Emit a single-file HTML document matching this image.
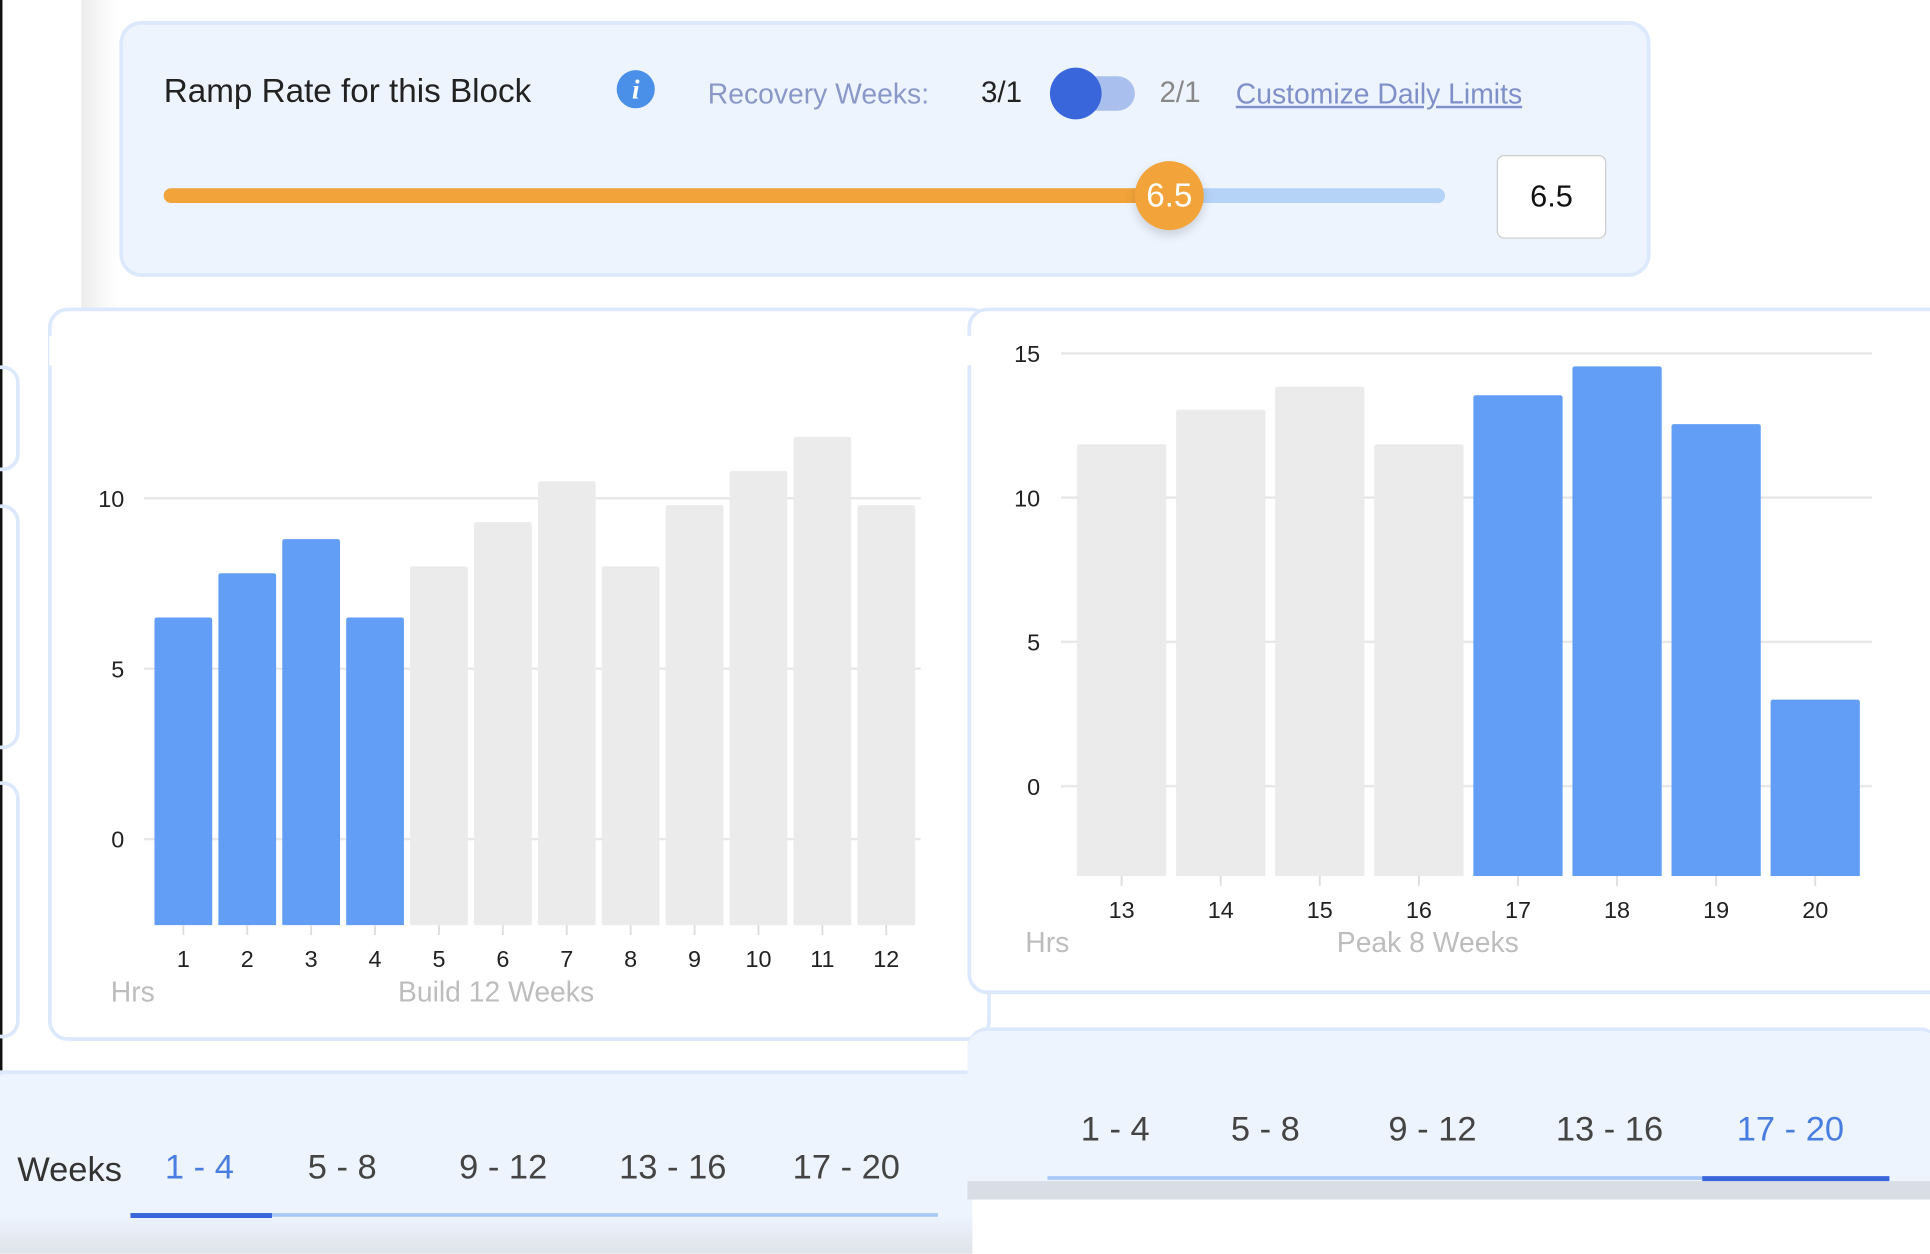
<!DOCTYPE html>
<html><head><meta charset="utf-8"><style>
html,body{margin:0;padding:0;background:#fff;overflow:hidden}
#root{position:absolute;left:0;top:0;width:1568px;height:1016px;transform:scale(1.23087,1.2303);transform-origin:0 0;font-family:"Liberation Sans",sans-serif;background:#fff}
.abs{position:absolute}
.t{position:absolute;white-space:nowrap}
</style></head><body>
<div id="root">
  <div class="abs" style="left:0;top:0;width:2px;height:1016px;background:#111"></div>
  <div class="abs" style="left:66px;top:0;width:1300px;height:273px;background:linear-gradient(90deg,#ececec,#fafafa 20px,#fff 30px)"></div>
  <div class="abs" style="left:97px;top:17px;width:1238px;height:202px;background:#edf4fe;border:3px solid #dce8fb;border-radius:18px"></div>
  <div class="abs" style="left:97px;top:253px;width:1238px;height:40px;background:#edf4fe;border:3px solid #dce8fb;border-radius:18px"></div>
  <div class="abs" style="left:66px;top:273px;width:1502px;height:30px;background:#fff"></div>

  <div class="t" style="left:133px;top:59px;font-size:27px;color:#222">Ramp Rate for this Block</div>
  <div class="t" style="left:501px;top:57px;width:31px;height:31px;border-radius:50%;background:#4a90e8;color:#fff;font:italic bold 22px 'Liberation Serif',serif;text-align:center;line-height:31px">i</div>
  <div class="t" style="left:575px;top:63px;font-size:23px;color:#8a98c8">Recovery Weeks:</div>
  <div class="t" style="left:797px;top:62px;font-size:24px;color:#222">3/1</div>
  <div class="abs" style="left:858px;top:62px;width:64px;height:28px;border-radius:14px;background:#a9c0ef"></div>
  <div class="abs" style="left:853px;top:55px;width:42px;height:42px;border-radius:50%;background:#3a66db"></div>
  <div class="t" style="left:942px;top:62px;font-size:24px;color:#888">2/1</div>
  <div class="t" style="left:1004px;top:63px;font-size:23px;color:#7f8fc8;text-decoration:underline">Customize Daily Limits</div>

  <div class="abs" style="left:133px;top:153px;width:1041px;height:12px;border-radius:6px;background:#b5d3f7"></div>
  <div class="abs" style="left:133px;top:153px;width:817px;height:12px;border-radius:6px;background:#f2a43a"></div>
  <div class="abs" style="left:922px;top:131px;width:56px;height:56px;border-radius:50%;background:#f2a43a;box-shadow:0 4px 8px rgba(0,0,0,.15);color:#fff;font-size:27px;text-align:center;line-height:56px">6.5</div>
  <div class="abs" style="left:1216px;top:126px;width:87px;height:66px;background:#fff;border:1px solid #ccc;border-radius:6px;font-size:25px;text-align:center;line-height:66px;color:#111">6.5</div>

  <!-- left side small cards -->
  <div class="abs" style="left:-20px;top:297px;width:30px;height:80px;border:3px solid #dce8fb;border-radius:14px"></div>
  <div class="abs" style="left:-20px;top:410px;width:30px;height:193px;border:3px solid #dce8fb;border-radius:14px"></div>
  <div class="abs" style="left:-20px;top:635px;width:30px;height:203px;border:3px solid #dce8fb;border-radius:14px"></div>

  <div class="abs" style="left:39px;top:250px;width:760px;height:590px;border:3px solid #dce8fb;border-radius:16px;background:#fff"></div>
  <div class="abs" style="left:786px;top:250px;width:800px;height:552px;border:3px solid #dce8fb;border-radius:16px;background:#fff"></div>
  <div class="abs" style="left:40px;top:273px;width:1528px;height:24px;background:#fff"></div>

  <svg class="abs" style="left:0;top:0" width="1568" height="1016" id="charts"></svg>

  <!-- bottom left tabs -->
  <div class="abs" style="left:0;top:870px;width:790px;height:146px;background:linear-gradient(#edf4fe 0,#edf4fe 115px,#dfe3ea 146px);border-top:3px solid #dce8fb"></div>
  <div class="t" style="left:14px;top:935px;font-size:28px;color:#333">Weeks</div>
  <div class="t" style="left:134px;top:933px;font-size:28px;color:#4a7de0">1 - 4</div>
  <div class="t" style="left:250px;top:933px;font-size:28px;color:#444">5 - 8</div>
  <div class="t" style="left:373px;top:933px;font-size:28px;color:#444">9 - 12</div>
  <div class="t" style="left:503px;top:933px;font-size:28px;color:#444">13 - 16</div>
  <div class="t" style="left:644px;top:933px;font-size:28px;color:#444">17 - 20</div>
  <div class="abs" style="left:106px;top:986px;width:656px;height:3px;background:#a8c8f5"></div>
  <div class="abs" style="left:106px;top:986px;width:115px;height:4px;background:#3a66db"></div>

  <!-- bottom right tabs -->
  <div class="abs" style="left:786px;top:835px;width:790px;height:125px;background:#edf4fe;border-top:3px solid #dce8fb;border-radius:16px 16px 0 0"></div>
  <div class="abs" style="left:786px;top:960px;width:782px;height:15px;background:#d8dde6"></div>
  <div class="t" style="left:878px;top:902px;font-size:28px;color:#444">1 - 4</div>
  <div class="t" style="left:1000px;top:902px;font-size:28px;color:#444">5 - 8</div>
  <div class="t" style="left:1128px;top:902px;font-size:28px;color:#444">9 - 12</div>
  <div class="t" style="left:1264px;top:902px;font-size:28px;color:#444">13 - 16</div>
  <div class="t" style="left:1411px;top:902px;font-size:28px;color:#4a7de0">17 - 20</div>
  <div class="abs" style="left:851px;top:956px;width:684px;height:3px;background:#a8c8f5"></div>
  <div class="abs" style="left:1383px;top:956px;width:152px;height:4px;background:#3a66db"></div>
</div>
<script>
const buildWeeks = ["1","2","3","4","5","6","7","8","9","10","11","12"];
const buildHours = [6.5,7.8,8.8,6.5,8.0,9.3,10.5,8.0,9.8,10.8,11.8,9.8];
const buildActive = [1,1,1,1,0,0,0,0,0,0,0,0];
const buildTicks = [0,5,10];
const peakWeeks = ["13","14","15","16","17","18","19","20"];
const peakHours = [11.85,13.05,13.85,11.85,13.55,14.55,12.55,3.0];
const peakActive = [0,0,0,0,1,1,1,1];
const peakTicks = [0,5,10,15];

const NS='http://www.w3.org/2000/svg';
const svg=document.getElementById('charts');
function mk(tag,attrs,parent){const e=document.createElementNS(NS,tag);for(const k in attrs)e.setAttribute(k,attrs[k]);(parent||svg).appendChild(e);return e;}
function drawChart(cfg,cats,vals,active,ticks){
  const g=mk('g',{});
  
  
  const y=v=>cfg.y0-(v-0)*cfg.ppu;
  const bottom=cfg.bottom;
  ticks.forEach(t=>{
    const l=mk('line',{x1:cfg.gx1,x2:cfg.gx2,y1:y(t),y2:y(t),stroke:'#e8e8e8','stroke-width':2},g);
    
    
    const tx=mk('text',{x:cfg.labX,y:y(t)+7,'text-anchor':'end','font-size':19,fill:'#222','font-family':'Liberation Sans, sans-serif'},g);
    tx.textContent=t;
    
    
  });
  const step=(cfg.x2-cfg.x1)/cats.length;
  cats.forEach((c,i)=>{
    const bx=cfg.x1+i*step+cfg.gap/2, bw=step-cfg.gap;
    const top=y(vals[i]);
    const r=mk('path',{d:`M${bx},${bottom} V${top+2} Q${bx},${top} ${bx+2},${top} H${bx+bw-2} Q${bx+bw},${top} ${bx+bw},${top+2} V${bottom} Z`,fill:active[i]?'#629ef5':'#ebebeb'},g);
    
    
    const cx=bx+bw/2;
    mk('line',{x1:cx,x2:cx,y1:bottom,y2:bottom+8,stroke:'#ddd','stroke-width':1.5},g);
    const tx=mk('text',{x:cx,y:bottom+34,'text-anchor':'middle','font-size':19,fill:'#222','font-family':'Liberation Sans, sans-serif'},g);
    tx.textContent=c;
    
    
  });
  const h=mk('text',{x:cfg.hrsX,y:bottom+62,'font-size':23,fill:'#bdbdbd','font-family':'Liberation Sans, sans-serif'},g);
  h.textContent='Hrs';
  
  
  const tt=mk('text',{x:cfg.titleX,y:bottom+62,'text-anchor':'middle','font-size':23,fill:'#bdbdbd','font-family':'Liberation Sans, sans-serif'},g);
  tt.textContent=cfg.title;
  
  
}
drawChart({name:'build-chart',y0:682,ppu:27.7,bottom:752,gx1:117,gx2:748,labX:101,x1:123,x2:746,gap:5,hrsX:90,titleX:403,title:'Build 12 Weeks'},buildWeeks,buildHours,buildActive,buildTicks);
drawChart({name:'peak-chart',y0:639,ppu:23.45,bottom:712,gx1:862,gx2:1521,labX:845,x1:871,x2:1515,gap:8,hrsX:833,titleX:1160,title:'Peak 8 Weeks'},peakWeeks,peakHours,peakActive,peakTicks);
</script>
</body></html>
